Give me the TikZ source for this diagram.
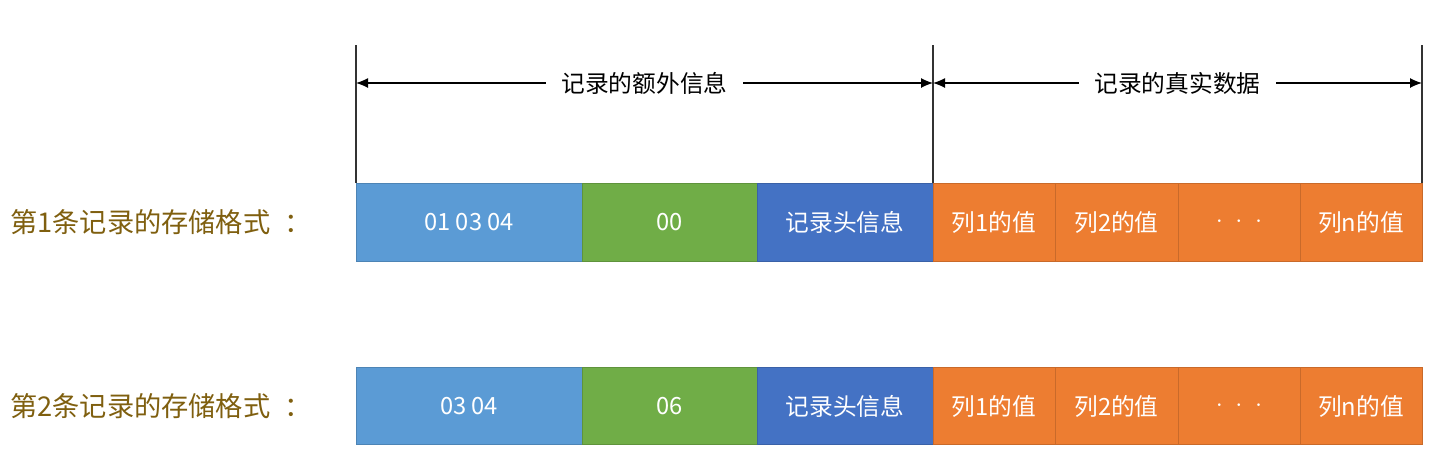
\documentclass[tikz,border=0pt]{standalone}
\usepackage{fontspec}
\setmainfont{Noto Sans CJK SC}
\usetikzlibrary{arrows.meta}
\definecolor{cellblue}{HTML}{5B9BD5}
\definecolor{cellgreen}{HTML}{70AD47}
\definecolor{celldark}{HTML}{4472C4}
\definecolor{cellorange}{HTML}{ED7D31}
\definecolor{rowlabel}{HTML}{7F5F0F}
\tikzset{
  cell/.style={draw=#1!85!black, fill=#1, line width=0.5pt},
  celltext/.style={text=white, font=\fontsize{13.5}{13.5}\selectfont},
  guide/.style={draw=black!80, line width=0.7pt},
  dim/.style={draw=black, line width=0.7pt, {Latex[length=2.4mm,width=2mm]}-{Latex[length=2.4mm,width=2mm]}},
  dimtext/.style={fill=white, inner xsep=9pt, font=\fontsize{13.5}{13.5}\selectfont},
  rowtext/.style={anchor=west, text=rowlabel, font=\fontsize{15.5}{15.5}\selectfont}
}
\begin{document}
\begin{tikzpicture}[x=0.02cm, y=-0.02cm]
% Set the picture size
\useasboundingbox (0,0) rectangle (1444,454);

% Draw the guide lines and the two spans
\coordinate (t1) at (356,45);
\coordinate (b1) at (356,183);
\coordinate (t2) at (933,45);
\coordinate (b2) at (933,183);
\coordinate (t3) at (1422,45);
\coordinate (b3) at (1422,183);
\draw[guide] (t1) -- (b1);
\draw[guide] (t2) -- (b2);
\draw[guide] (t3) -- (b3);
\coordinate (s1) at (356,83);
\coordinate (s2) at (933,83);
\coordinate (s3) at (1422,83);
\draw[dim] (s1) -- node[dimtext] (extra) {记录的额外信息} (s2);
\draw[dim] (s2) -- node[dimtext] (real) {记录的真实数据} (s3);

% First record
\node[rowtext] (label1) at (4,222) {第1条记录的存储格式\hspace{0.5em}：};
\draw[cell=cellblue] (356,183) rectangle (582,261);
\node[celltext] (r1vlen) at (469,222) {01 03 04};
\draw[cell=cellgreen] (582,183) rectangle (757,261);
\node[celltext] (r1null) at (669.5,222) {00};
\draw[cell=celldark] (757,183) rectangle (933,261);
\node[celltext] (r1head) at (845,222) {记录头信息};
\draw[cell=cellorange] (933,183) rectangle (1055,261);
\node[celltext] (r1col1) at (994,222) {列1的值};
\draw[cell=cellorange] (1055,183) rectangle (1178,261);
\node[celltext] (r1col2) at (1116.5,222) {列2的值};
\draw[cell=cellorange] (1178,183) rectangle (1300,261);
\node[celltext] (r1dots) at (1239,222) {$\cdot\;\cdot\;\cdot$};
\draw[cell=cellorange] (1300,183) rectangle (1422,261);
\node[celltext] (r1coln) at (1361,222) {列n的值};

% Second record
\node[rowtext] (label2) at (4,406) {第2条记录的存储格式\hspace{0.5em}：};
\draw[cell=cellblue] (356,367) rectangle (582,444);
\node[celltext] (r2vlen) at (469,406) {03 04};
\draw[cell=cellgreen] (582,367) rectangle (757,444);
\node[celltext] (r2null) at (669.5,406) {06};
\draw[cell=celldark] (757,367) rectangle (933,444);
\node[celltext] (r2head) at (845,406) {记录头信息};
\draw[cell=cellorange] (933,367) rectangle (1055,444);
\node[celltext] (r2col1) at (994,406) {列1的值};
\draw[cell=cellorange] (1055,367) rectangle (1178,444);
\node[celltext] (r2col2) at (1116.5,406) {列2的值};
\draw[cell=cellorange] (1178,367) rectangle (1300,444);
\node[celltext] (r2dots) at (1239,406) {$\cdot\;\cdot\;\cdot$};
\draw[cell=cellorange] (1300,367) rectangle (1422,444);
\node[celltext] (r2coln) at (1361,406) {列n的值};
\end{tikzpicture}
\end{document}
